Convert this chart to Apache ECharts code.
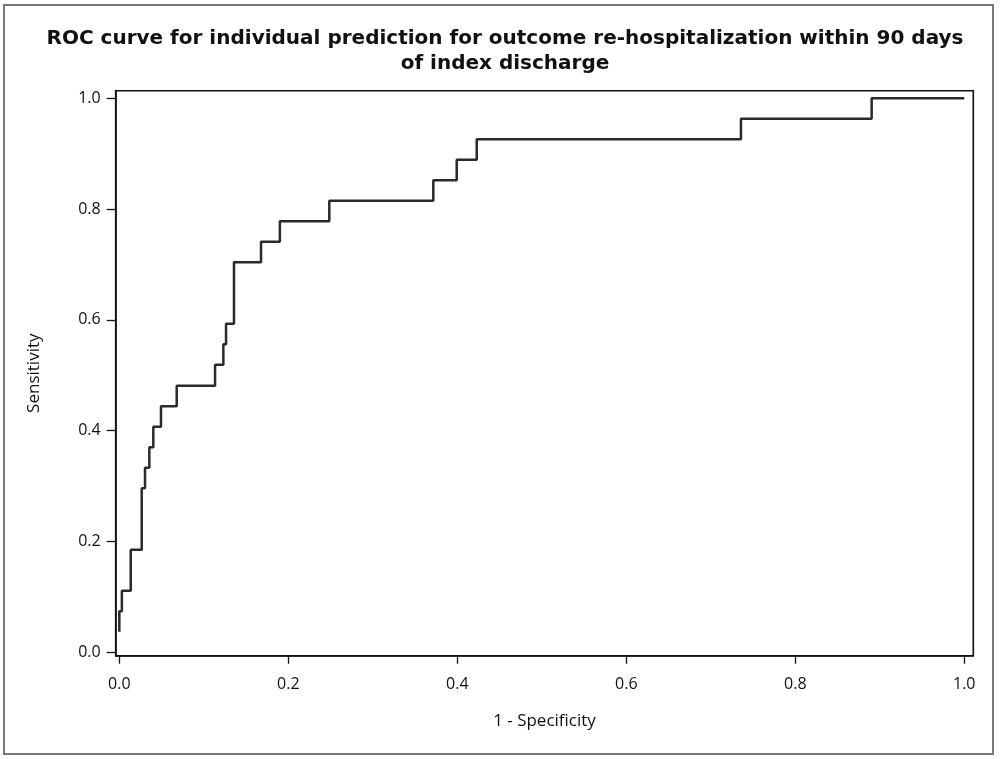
<!DOCTYPE html>
<html>
<head>
<meta charset="utf-8">
<script src="https://cdn.jsdelivr.net/npm/echarts@6/dist/echarts.min.js"></script>
<style>
html,body{margin:0;padding:0;background:#fff;}
#chart{width:1000px;height:759px;}
</style>
</head>
<body>
<div id="chart"></div>
<script>
// 1 - Specificity (false positive rate) at each ROC vertex
var fpr = [0, 0, 0.003, 0.0135, 0.0265, 0.0304, 0.0355, 0.0402, 0.0493, 0.0679, 0.1133, 0.1231, 0.1263, 0.1357, 0.1677, 0.190, 0.2485, 0.3716, 0.3993, 0.423, 0.7357, 0.8904, 1.0];
// Sensitivity (true positive rate) at each ROC vertex
var tpr = [0.037, 0.074, 0.111, 0.185, 0.296, 0.333, 0.370, 0.407, 0.444, 0.481, 0.519, 0.556, 0.593, 0.704, 0.741, 0.778, 0.815, 0.852, 0.889, 0.926, 0.963, 1.0, 1.0];
var tickValues = [0, 0.2, 0.4, 0.6, 0.8, 1.0];
var titleText = 'ROC curve for individual prediction for outcome re-hospitalization within 90 days\nof index discharge';
var xName = '1 - Specificity';
var yName = 'Sensitivity';

var points = fpr.map(function (x, i) { return [x, tpr[i]]; });
var font = '"Open Sans", "Liberation Sans", sans-serif';

var chart = echarts.init(document.getElementById('chart'), null, {renderer: 'canvas'});
chart.setOption({
  animation: false,
  backgroundColor: '#fff',
  title: {
    text: titleText,
    left: 500,
    top: 21,
    textAlign: 'center',
    textStyle: {fontFamily: '"DejaVu Sans", sans-serif', fontSize: 20, fontWeight: 'bold', color: '#111', lineHeight: 25}
  },
  graphic: [{
    type: 'rect',
    shape: {x: 4, y: 5, width: 989, height: 749},
    style: {fill: 'none', stroke: '#777', lineWidth: 2},
    silent: true
  }],
  grid: {
    left: 115.7, right: 26.7, top: 90.7, bottom: 103.3,
    show: true, borderColor: '#111', borderWidth: 1.6, backgroundColor: 'transparent'
  },
  xAxis: {
    type: 'value',
    min: -0.0043, max: 1.0107,
    name: xName, nameLocation: 'middle', nameGap: 57,
    nameTextStyle: {fontFamily: font, fontSize: 17, color: '#111'},
    axisLine: {show: true, onZero: false, lineStyle: {color: '#111', width: 1.6}},
    axisTick: {show: true, length: 8, customValues: tickValues, lineStyle: {color: '#111', width: 1.3}},
    axisLabel: {customValues: tickValues, fontFamily: font, fontSize: 16, color: '#111', margin: 21,
      formatter: function (v) { return v.toFixed(1); }},
    splitLine: {show: false}
  },
  yAxis: {
    type: 'value',
    min: -0.0061, max: 1.0137,
    name: yName, nameLocation: 'middle', nameGap: 73, nameRotate: 90,
    nameTextStyle: {fontFamily: font, fontSize: 17, color: '#111'},
    axisLine: {show: true, onZero: false, lineStyle: {color: '#111', width: 1.6}},
    axisTick: {show: true, length: 9, customValues: tickValues, lineStyle: {color: '#111', width: 1.3}},
    axisLabel: {customValues: tickValues, fontFamily: font, fontSize: 16, color: '#111', margin: 15,
      formatter: function (v) { return v.toFixed(1); }},
    splitLine: {show: false}
  },
  series: [{
    type: 'line',
    data: points,
    step: 'end',
    showSymbol: false,
    lineStyle: {color: '#2a2a2a', width: 2.5},
    clip: false
  }]
});
</script>
</body>
</html>
